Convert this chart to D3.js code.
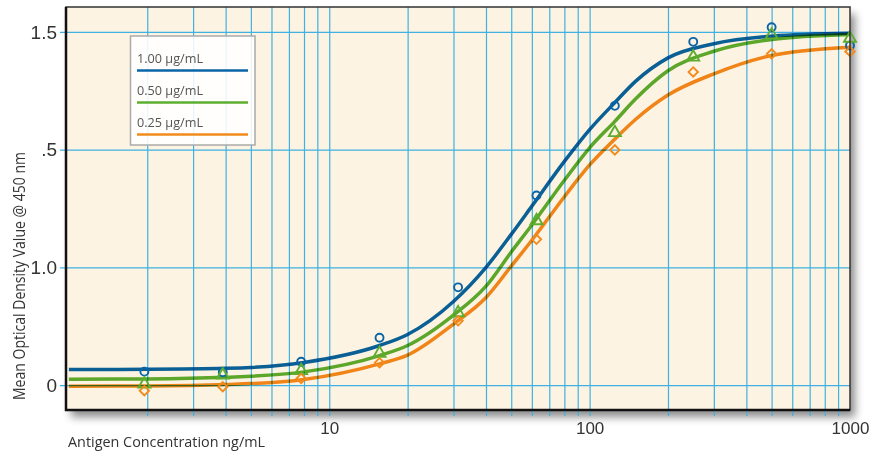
<!DOCTYPE html>
<html>
<head>
<meta charset="utf-8">
<script src="https://cdn.jsdelivr.net/npm/d3@7"></script>
<style>
  body { margin: 0; background: #fff; }
  svg { display: block; font-family: "Open Sans", sans-serif; }
</style>
</head>
<body>
<div id="chart"></div>
<script>
// series names (legend)
const seriesNames = ["1.00 μg/mL", "0.50 μg/mL", "0.25 μg/mL"];
const seriesColors = ["#0a65a8", "#5dae2f", "#f28b1c"];
const seriesSymbols = ["circle", "triangle", "diamond"];

// measured points (serial dilution)
const pointConc = [1.95, 3.9, 7.8, 15.6, 31.25, 62.5, 125, 250, 500, 1000];
const pointsHigh = [0.057, 0.054, 0.099, 0.201, 0.415, 0.805, 1.186, 1.458, 1.520, 1.442];
const pointsMid  = [0.004, 0.042, 0.061, 0.135, 0.307, 0.698, 1.072, 1.393, 1.487, 1.473];
const pointsLow  = [-0.024, -0.007, 0.028, 0.095, 0.273, 0.619, 0.999, 1.330, 1.407, 1.417];

// fitted curves
const curveConc = [1, 2, 4, 8, 15.6, 20, 30, 40, 50, 60, 80, 100, 125, 150, 200, 300, 500, 1000];
const curveHigh = [0.066, 0.067, 0.071, 0.096, 0.168, 0.215, 0.355, 0.500, 0.640, 0.760, 0.950, 1.085, 1.200, 1.290, 1.390, 1.450, 1.482, 1.494];
const curveMid  = [0.025, 0.026, 0.033, 0.056, 0.125, 0.168, 0.297, 0.420, 0.565, 0.680, 0.870, 1.008, 1.120, 1.215, 1.335, 1.418, 1.468, 1.489];
const curveLow  = [-0.005, -0.004, 0.002, 0.024, 0.090, 0.127, 0.259, 0.372, 0.505, 0.615, 0.800, 0.935, 1.045, 1.128, 1.232, 1.322, 1.400, 1.435];

// axes
const xGrid = [2, 3, 4, 5, 6, 7, 8, 9, 10, 20, 30, 40, 50, 60, 70, 80, 90, 100,
               200, 300, 400, 500, 600, 700, 800, 900];
const xTickValues = [10, 100, 1000];
const yTickValues = [0, 0.5, 1.0, 1.5];
const yTickLabels = ["0", "1.0", ".5", "1.5"];

const width = 887, height = 454;
const plotLeft = 66, plotRight = 850, plotTop = 7, plotBottom = 410;

const svg = d3.select("#chart").append("svg")
  .attr("width", width)
  .attr("height", height);

const defs = svg.append("defs");
const shadow = defs.append("filter").attr("id", "shadow")
  .attr("x", "-5%").attr("y", "-5%").attr("width", "115%").attr("height", "120%");
shadow.append("feDropShadow")
  .attr("dx", 5).attr("dy", 7).attr("stdDeviation", 4)
  .attr("flood-color", "#000").attr("flood-opacity", 0.45);

const x = d3.scaleLog().domain([0.975, 1000]).range([plotLeft, plotRight]);
const y = d3.scaleLinear().domain([-0.106, 1.606]).range([plotBottom, plotTop]);

// plot background with shadow
svg.append("rect")
  .attr("x", plotLeft).attr("y", plotTop)
  .attr("width", plotRight - plotLeft).attr("height", plotBottom - plotTop)
  .attr("fill", "#fdf3e2")
  .attr("filter", "url(#shadow)");

// vertical grid + tick marks below
const gx = svg.append("g")
  .attr("transform", "translate(0," + (plotBottom + 6) + ")")
  .call(d3.axisBottom(x).tickValues(xGrid).tickSize(-(plotBottom - plotTop + 6)).tickFormat(""));
gx.select(".domain").remove();
gx.selectAll("line").attr("stroke", "#3fb1e2").attr("stroke-width", 1.2);

// horizontal grid + tick marks left
const gy = svg.append("g")
  .attr("transform", "translate(" + (plotLeft - 6) + ",0)")
  .call(d3.axisLeft(y).tickValues(yTickValues).tickSize(-(plotRight - plotLeft + 6))
    .tickFormat((d, i) => yTickLabels[i]).tickPadding(3));
gy.select(".domain").remove();
gy.selectAll("line").attr("stroke", "#3fb1e2").attr("stroke-width", 1.2);
gy.selectAll("text")
  .attr("font-size", 19)
  .attr("fill", "#333");

// x labels
const gxl = svg.append("g")
  .attr("transform", "translate(0," + (plotBottom + 6) + ")")
  .call(d3.axisBottom(x).tickValues(xTickValues).tickSize(0).tickFormat(d3.format("d")).tickPadding(6));
gxl.select(".domain").remove();
gxl.selectAll("text")
  .attr("font-size", 17)
  .attr("fill", "#333");

// legend box
const legend = svg.append("g");
legend.append("rect")
  .attr("x", 130.5).attr("y", 36)
  .attr("width", 124.5).attr("height", 109)
  .attr("fill", "#fff").attr("fill-opacity", 0.88)
  .attr("stroke", "#aaa").attr("stroke-width", 1.5);
seriesNames.forEach((name, i) => {
  legend.append("text")
    .attr("x", 137).attr("y", 63 + i * 32)
    .attr("font-size", 13)
    .attr("textLength", 66)
    .attr("lengthAdjust", "spacingAndGlyphs")
    .attr("fill", "#555")
    .text(name);
  legend.append("line")
    .attr("x1", 137).attr("x2", 248)
    .attr("y1", 70.5 + i * 32).attr("y2", 70.5 + i * 32)
    .attr("stroke", seriesColors[i])
    .attr("stroke-width", 2.5);
});

// curves
const line = d3.line()
  .x(d => x(d[0]))
  .y(d => y(d[1]))
  .curve(d3.curveMonotoneX);

const curves = [curveHigh, curveMid, curveLow];
const plot = svg.append("g");
curves.forEach((vals, i) => {
  plot.append("path")
    .datum(curveConc.map((c, j) => [c, vals[j]]))
    .attr("d", line)
    .attr("fill", "none")
    .attr("stroke", seriesColors[i])
    .attr("stroke-width", 3.5)
    .style("mix-blend-mode", "multiply");
});

// points
const points = [pointsHigh, pointsMid, pointsLow];
const symbolTypes = { circle: d3.symbolCircle, triangle: d3.symbolTriangle, diamond: d3.symbolSquare };
points.forEach((vals, i) => {
  const type = seriesSymbols[i];
  const sym = d3.symbol().type(symbolTypes[type]).size(type === "circle" ? 50 : type === "triangle" ? 62 : 44);
  plot.selectAll(null)
    .data(pointConc.map((c, j) => [c, vals[j]]))
    .enter()
    .append("path")
    .attr("d", sym)
    .attr("transform", d => "translate(" + x(d[0]) + "," + y(d[1]) + ")" + (type === "diamond" ? " rotate(45)" : ""))
    .attr("fill", "none")
    .attr("stroke", seriesColors[i])
    .attr("stroke-width", 1.9);
});

// frame
svg.append("rect")
  .attr("x", plotLeft).attr("y", plotTop)
  .attr("width", plotRight - plotLeft).attr("height", plotBottom - plotTop)
  .attr("fill", "none")
  .attr("stroke", "#333").attr("stroke-width", 1.5);
svg.append("path")
  .attr("d", "M" + plotLeft + "," + plotTop + "V" + plotBottom + "H" + plotRight)
  .attr("fill", "none")
  .attr("stroke", "#111").attr("stroke-width", 2.5);

// axis titles
svg.append("text")
  .attr("x", 68).attr("y", 447)
  .attr("font-size", 14.5)
  .attr("textLength", 197)
  .attr("lengthAdjust", "spacingAndGlyphs")
  .attr("fill", "#333")
  .text("Antigen Concentration ng/mL");

svg.append("text")
  .attr("transform", "translate(25,276) rotate(-90)")
  .attr("text-anchor", "middle")
  .attr("font-size", 15.5)
  .attr("textLength", 248)
  .attr("lengthAdjust", "spacingAndGlyphs")
  .attr("fill", "#333")
  .text("Mean Optical Density Value @ 450 nm");
</script>
</body>
</html>
